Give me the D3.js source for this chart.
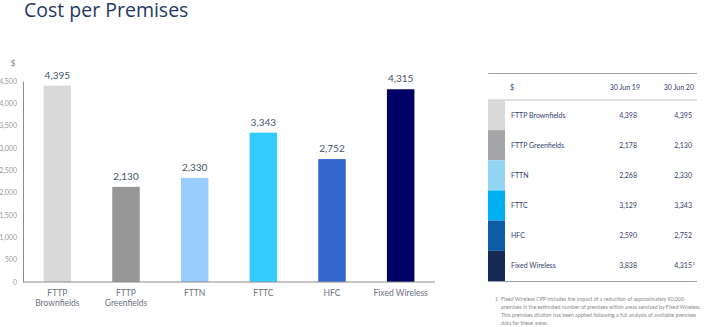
<!DOCTYPE html>
<html>
<head>
<meta charset="utf-8">
<script src="https://cdn.jsdelivr.net/npm/d3@7"></script>
<style>
  body { margin: 0; background: #fff; }
  svg { display: block; }
</style>
</head>
<body>
<svg id="svg" width="705" height="327"></svg>
<script>
// chart data
const categories = ["FTTP Brownfields", "FTTP Greenfields", "FTTN", "FTTC", "HFC", "Fixed Wireless"];
const catLines = [["FTTP", "Brownfields"], ["FTTP", "Greenfields"], ["FTTN"], ["FTTC"], ["HFC"], ["Fixed Wireless"]];
const jun20 = [4395, 2130, 2330, 3343, 2752, 4315];
const jun19 = [4398, 2178, 2268, 3129, 2590, 3838];
const barColors = ["#d9d9d9", "#969696", "#99ccff", "#33ccff", "#3366cc", "#000066"];
const swatchColors = ["#d9d9d9", "#a6a6aa", "#92d5f5", "#00b0f0", "#0f5ca6", "#172a56"];
const yTicks = d3.range(0, 4501, 500);
const tableHead = ["$", "30 Jun 19", "30 Jun 20"];
const footnote = [
  "Fixed Wireless CPP includes the impact of a reduction of approximately 90,000",
  "premises in the estimated number of premises within areas serviced by Fixed Wireless.",
  "This premises dilution has been applied following a full analysis of available premises",
  "data for these areas."
];

const fmt = d3.format(",");
const svg = d3.select("#svg");

// title
svg.append("text")
    .attr("x", 24).attr("y", 17)
    .attr("font-family", "Open Sans")
    .attr("font-size", 19.5)
    .attr("fill", "#1f3864")
    .text("Cost per Premises");

// bar chart
const margin = {left: 23, top: 81, bottom: 282, right: 435};
const x = d3.scaleBand().domain(categories).range([margin.left, margin.right]).paddingInner(0.6).paddingOuter(0.3);
const y = d3.scaleLinear().domain([0, 4500]).range([margin.bottom, margin.top]);

const yAxis = svg.append("g")
    .attr("transform", `translate(${margin.left},0)`)
    .call(d3.axisLeft(y).tickValues(yTicks).tickFormat(fmt).tickSize(0).tickPadding(6));
yAxis.select(".domain").attr("stroke", "#8c8c8c");
yAxis.selectAll("text")
    .attr("font-family", "Lato")
    .attr("font-size", 7)
    .attr("fill", "#9a9a9a");

svg.append("text")
    .attr("x", 13).attr("y", 66)
    .attr("text-anchor", "middle")
    .attr("font-family", "Lato")
    .attr("font-size", 8)
    .attr("fill", "#777")
    .text("$");

svg.append("g").selectAll("rect")
    .data(categories)
    .join("rect")
    .attr("x", d => x(d))
    .attr("y", (d, i) => y(jun20[i]))
    .attr("width", x.bandwidth())
    .attr("height", (d, i) => y(0) - y(jun20[i]))
    .attr("fill", (d, i) => barColors[i]);

svg.append("g").selectAll("text")
    .data(categories)
    .join("text")
    .attr("x", d => x(d) + x.bandwidth() / 2)
    .attr("y", (d, i) => y(jun20[i]) - 7)
    .attr("text-anchor", "middle")
    .attr("font-family", "Lato")
    .attr("font-size", 10)
    .attr("fill", "#44546a")
    .text((d, i) => fmt(jun20[i]));

const xAxis = svg.append("g")
    .attr("transform", `translate(0,${margin.bottom})`)
    .call(d3.axisBottom(x).tickSize(0).tickFormat(""));
xAxis.select(".domain").attr("stroke", "#8c8c8c").attr("d", `M${margin.left},0H${margin.right}`);

svg.append("g").selectAll("text")
    .data(categories)
    .join("text")
    .attr("x", d => x(d) + x.bandwidth() / 2)
    .attr("y", 296)
    .attr("text-anchor", "middle")
    .attr("font-family", "Lato")
    .attr("font-size", 8.5)
    .attr("fill", "#6b7080")
    .call(t => t.selectAll("tspan")
        .data((d, i) => catLines[i])
        .join("tspan")
        .attr("x", function() { return d3.select(this.parentNode).attr("x"); })
        .attr("dy", (d, j) => j ? 9.5 : 0)
        .text(d => d));

// table
const tx0 = 488, tx1 = 697;
const rowY = d3.scaleBand().domain(categories).range([100, 281]);
const col19 = 637, col20 = 692;
const navy = "#333d6e";
const tbl = svg.append("g").attr("font-family", "Lato").attr("font-size", 7).attr("fill", navy);

tbl.append("line").attr("x1", tx0).attr("x2", tx1).attr("y1", 73.5).attr("y2", 73.5)
    .attr("stroke", "#9a9cb0").attr("stroke-width", 1.2);
tbl.append("line").attr("x1", tx0).attr("x2", tx1).attr("y1", 100).attr("y2", 100)
    .attr("stroke", "#b0b2c2").attr("stroke-width", 0.8);
tbl.append("line").attr("x1", tx0).attr("x2", tx1).attr("y1", 281.5).attr("y2", 281.5)
    .attr("stroke", "#9a9cb0").attr("stroke-width", 1);

tbl.append("text").attr("x", 510).attr("y", 89.5).text(tableHead[0]);
tbl.append("text").attr("x", 640).attr("y", 89.5).attr("text-anchor", "end").text(tableHead[1]);
tbl.append("text").attr("x", 694).attr("y", 89.5).attr("text-anchor", "end").text(tableHead[2]);

tbl.selectAll("rect.sw")
    .data(categories)
    .join("rect")
    .attr("class", "sw")
    .attr("x", tx0)
    .attr("y", d => rowY(d))
    .attr("width", 17)
    .attr("height", rowY.bandwidth())
    .attr("fill", (d, i) => swatchColors[i]);

const rows = tbl.selectAll("g.row")
    .data(categories)
    .join("g")
    .attr("class", "row")
    .attr("transform", d => `translate(0,${rowY(d) + rowY.bandwidth() / 2 + 2.5})`);
rows.append("text").attr("x", 511).text(d => d);
rows.append("text").attr("x", col19).attr("text-anchor", "end").text((d, i) => fmt(jun19[i]));
rows.append("text").attr("x", col20).attr("text-anchor", "end").text((d, i) => fmt(jun20[i]));
rows.filter((d, i) => i === categories.length - 1)
    .append("text").attr("x", col20 + 0.5).attr("y", -3).attr("font-size", 4).text("1");

// footnote
const fn = svg.append("g").attr("font-family", "Lato").attr("font-size", 5.3).attr("fill", "#8a8a8a");
fn.append("text").attr("x", 495).attr("y", 300.5).text("1");
fn.selectAll("text.l")
    .data(footnote)
    .join("text")
    .attr("class", "l")
    .attr("x", 501)
    .attr("y", (d, i) => 300.5 + i * 8.2)
    .text(d => d);
</script>
</body>
</html>
